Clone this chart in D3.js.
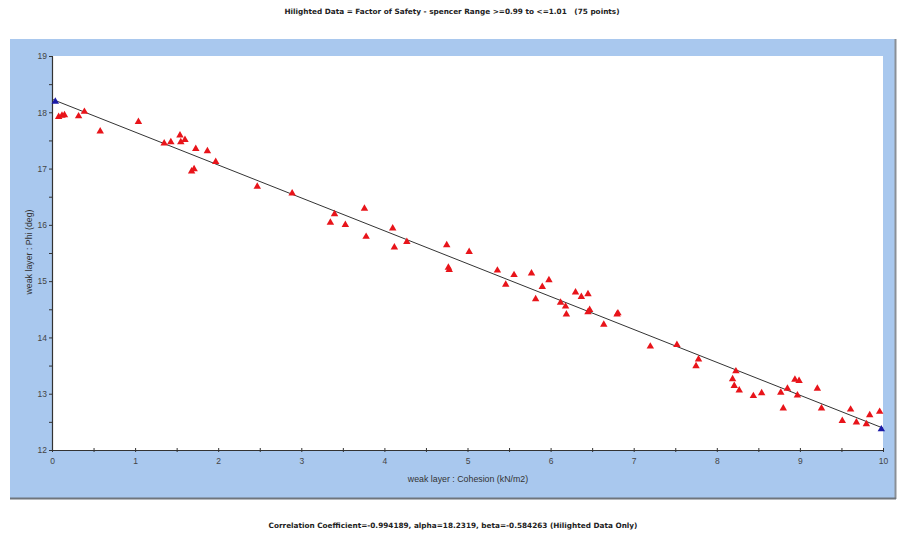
<!DOCTYPE html>
<html>
<head>
<meta charset="utf-8">
<script src="https://cdn.jsdelivr.net/npm/d3@7"></script>
<style>
  body { margin: 0; background: #fff; }
  svg { display: block; font-family: "Liberation Sans", Arial, sans-serif; }
  .note { white-space: pre; font-family: "DejaVu Sans", sans-serif; }
</style>
</head>
<body>
<div id="chart"></div>
<script>
// highlighted points (cohesion, phi)
const cohesion = [0.08, 0.12, 0.15, 0.32, 0.39, 0.58, 1.04, 1.35, 1.43, 1.54, 1.60, 1.55, 1.73, 1.87, 1.97, 1.68, 1.71,
  2.47, 2.89, 3.40, 3.35, 3.53, 3.76, 3.78, 4.10, 4.12, 4.27, 4.75, 5.02, 4.77, 4.78,
  5.36, 5.46, 5.56, 5.77, 5.82, 5.90, 5.98, 6.12, 6.18, 6.19, 6.30, 6.37, 6.45, 6.45, 6.47, 6.80, 6.81, 6.64, 7.20, 7.52,
  7.78, 7.75, 8.23, 8.19, 8.21, 8.27, 8.44, 8.54, 8.77, 8.80, 8.85, 8.94, 8.99, 8.97, 9.21, 9.26, 9.51, 9.61, 9.68, 9.80, 9.84, 9.96];
const phi = [17.92, 17.94, 17.95, 17.93, 18.01, 17.66, 17.83, 17.45, 17.47, 17.59, 17.51, 17.47, 17.35, 17.31, 17.12, 16.95, 16.99,
  16.68, 16.56, 16.19, 16.04, 16.00, 16.29, 15.79, 15.94, 15.60, 15.70, 15.64, 15.52, 15.24, 15.20,
  15.19, 14.94, 15.11, 15.14, 14.68, 14.90, 15.02, 14.62, 14.55, 14.41, 14.80, 14.72, 14.77, 14.45, 14.49, 14.41, 14.43, 14.23, 13.84, 13.87,
  13.61, 13.49, 13.40, 13.26, 13.14, 13.06, 12.96, 13.01, 13.02, 12.74, 13.09, 13.25, 13.23, 12.97, 13.09, 12.74, 12.52, 12.72, 12.49, 12.46, 12.62, 12.68];
// end points drawn in blue
const endX = [0.04, 9.98];
const endY = [18.19, 12.37];

const alpha = 18.2319, beta = -0.584263;
const xTicks = d3.range(0, 10.01, 0.5);
const yTicks = d3.range(12, 19.01, 0.5);

const width = 901, height = 534;
const plot = { left: 52, right: 883, top: 56, bottom: 450 };

const svg = d3.select("#chart").append("svg")
  .attr("width", width).attr("height", height);

// blue panel
svg.append("rect").attr("x", 10).attr("y", 39).attr("width", 885).attr("height", 459)
  .attr("fill", "#a9c8ee");
svg.append("line").attr("x1", 895.5).attr("x2", 895.5).attr("y1", 39).attr("y2", 499)
  .attr("stroke", "#8a8f96").attr("stroke-width", 2);
svg.append("line").attr("x1", 10).attr("x2", 896).attr("y1", 498.5).attr("y2", 498.5)
  .attr("stroke", "#6f757c").attr("stroke-width", 2);

svg.append("rect").attr("x", plot.left).attr("y", plot.top)
  .attr("width", plot.right - plot.left).attr("height", plot.bottom - plot.top)
  .attr("fill", "#fff");

const x = d3.scaleLinear().domain([0, 10]).range([plot.left, plot.right]);
const y = d3.scaleLinear().domain([12, 19]).range([plot.bottom, plot.top]);

const fmt = d => Number.isInteger(d) ? d : "";

const xAxis = svg.append("g").attr("transform", `translate(0,${plot.bottom})`)
  .call(d3.axisBottom(x).tickValues(xTicks).tickFormat(fmt).tickSizeInner(2).tickSizeOuter(0).tickPadding(6));
const yAxis = svg.append("g").attr("transform", `translate(${plot.left},0)`)
  .call(d3.axisLeft(y).tickValues(yTicks).tickFormat(fmt).tickSizeInner(3).tickSizeOuter(0).tickPadding(2));

[xAxis, yAxis].forEach(g => {
  g.select(".domain").attr("stroke", "#333").attr("stroke-width", 1.2);
  g.selectAll(".tick line").attr("stroke", "#333");
  g.selectAll(".tick text").attr("fill", "#444").attr("font-size", 8.5);
});
// ticks cross the axis a little
xAxis.selectAll(".tick line").attr("y1", -2);
yAxis.selectAll(".tick line").attr("x1", 1);

// fit line
svg.append("line")
  .attr("x1", x(0)).attr("y1", y(alpha))
  .attr("x2", x(10)).attr("y2", y(alpha + beta * 10))
  .attr("stroke", "#333").attr("stroke-width", 1);

const tri = d3.symbol().type(d3.symbolTriangle).size(24);

svg.append("g").selectAll("path")
  .data(cohesion.map((c, i) => [c, phi[i]]))
  .join("path")
  .attr("d", tri)
  .attr("transform", d => `translate(${x(d[0])},${y(d[1])})`)
  .attr("fill", "#e8141a");

svg.append("g").selectAll("path")
  .data(endX.map((c, i) => [c, endY[i]]))
  .join("path")
  .attr("d", tri)
  .attr("transform", d => `translate(${x(d[0])},${y(d[1])})`)
  .attr("fill", "#1a1aa8");

// texts
svg.append("text").attr("class", "note").attr("x", 452).attr("y", 14).attr("text-anchor", "middle")
  .attr("font-size", 7.3).attr("font-weight", "bold").attr("fill", "#222")
  .text("Hilighted Data = Factor of Safety - spencer Range >=0.99 to <=1.01   (75 points)");

svg.append("text").attr("class", "note").attr("x", 453).attr("y", 528).attr("text-anchor", "middle")
  .attr("font-size", 7.3).attr("font-weight", "bold").attr("fill", "#222")
  .text("Correlation Coefficient=-0.994189, alpha=18.2319, beta=-0.584263 (Hilighted Data Only)");

svg.append("text").attr("x", 468).attr("y", 482).attr("text-anchor", "middle")
  .attr("font-size", 8.8).attr("fill", "#333")
  .text("weak layer : Cohesion (kN/m2)");

svg.append("text").attr("transform", "translate(32,252) rotate(-90)").attr("text-anchor", "middle")
  .attr("font-size", 8.8).attr("fill", "#333")
  .text("weak layer : Phi (deg)");
</script>
</body>
</html>
